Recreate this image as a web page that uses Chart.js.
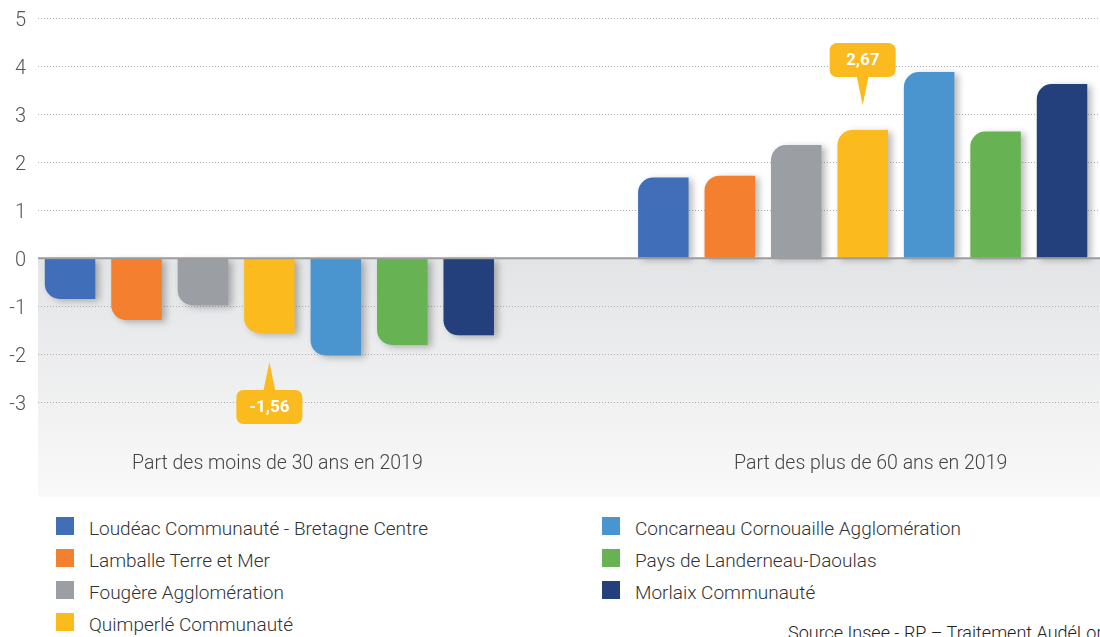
<!DOCTYPE html>
<html lang="fr">
<head>
<meta charset="utf-8">
<title>Part des moins de 30 ans / plus de 60 ans</title>
<script src="https://cdn.jsdelivr.net/npm/chart.js@4.4.1/dist/chart.umd.min.js"></script>
<style>
  html, body { margin: 0; padding: 0; background: #fff; overflow: hidden; }
  body { width: 1100px; height: 637px; position: relative; font-family: Roboto, "Noto Sans", sans-serif; }
  #wrap { position: absolute; left: 0; top: 0; width: 1100px; height: 497px; }
  #legend {
    position: absolute; left: 56px; top: 510px;
    display: grid; grid-template-columns: 546px auto; grid-template-rows: repeat(4, 32px);
    grid-auto-flow: column;
  }
  .item { display: flex; align-items: center; font-size: 19px; font-weight: 300; color: #333; white-space: nowrap; }
  .item span.txt { position: relative; top: 2px; }
  .box { width: 18px; height: 18px; margin-right: 15px; flex: none; }
  #source { position: absolute; left: 788px; top: 624px; font-size: 18px; font-weight: 300; line-height: 1; color: #222; white-space: nowrap; }
</style>
</head>
<body>
<div id="wrap"><canvas id="chart" width="1100" height="497"></canvas></div>
<div id="legend"></div>
<div id="source">Source Insee - RP – Traitement AudéLor</div>
<script>
// categories (x) and territories (series)
const categories = ['Part des moins de 30 ans en 2019', 'Part des plus de 60 ans en 2019'];
const territories = [
    'Loudéac Communauté - Bretagne Centre',
    'Lamballe Terre et Mer',
    'Fougère Agglomération',
    'Quimperlé Communauté',
    'Concarneau Cornouaille Agglomération',
    'Pays de Landerneau-Daoulas',
    'Morlaix Communauté'
];
const colors = ['#416eb8', '#f47f2e', '#9b9ea2', '#fbba1e', '#4a94d0', '#67b353', '#233f7c'];

// values (points of %)
const moins30 = [-0.85, -1.29, -0.98, -1.56, -2.03, -1.81, -1.61];
const plus60 = [1.68, 1.72, 2.36, 2.67, 3.88, 2.64, 3.63];
const yTicks = [-3, -2, -1, 0, 1, 2, 3, 4, 5];
const highlighted = 3; // Quimperlé gets the callouts

const seriesByCategory = [moins30, plus60];

const datasets = territories.map((name, i) => ({
    label: name,
    data: categories.map((c, j) => ({ x: j, y: seriesByCategory[j][i] })),
    backgroundColor: colors[i],
    borderRadius: { topLeft: 15, bottomLeft: 15 },
    borderSkipped: 'start',
    categoryPercentage: 0.784,
    barPercentage: 0.76
}));

// gray gradient below the zero line
const backgroundPlugin = {
    id: 'lowerBackground',
    beforeDraw(chart) {
        const { ctx, chartArea } = chart;
        const y0 = chart.scales.y.getPixelForValue(0);
        const g = ctx.createLinearGradient(0, y0, 0, chart.height);
        g.addColorStop(0, '#e3e4e6');
        g.addColorStop(1, '#f9f9f9');
        ctx.save();
        ctx.fillStyle = g;
        ctx.fillRect(chartArea.left, y0, chart.width - chartArea.left, chart.height - y0);
        ctx.restore();
    }
};

// soft shadow behind the bars
const shadowPlugin = {
    id: 'barShadow',
    beforeDatasetsDraw(chart) {
        const ctx = chart.ctx;
        ctx.save();
        ctx.shadowColor = 'rgba(0, 0, 0, 0.28)';
        ctx.shadowBlur = 7;
        ctx.shadowOffsetX = 4;
        ctx.shadowOffsetY = 2;
    },
    afterDatasetsDraw(chart) {
        chart.ctx.restore();
    }
};

// solid zero line + value callouts for the highlighted territory
const overlayPlugin = {
    id: 'overlay',
    afterDatasetsDraw(chart) {
        const { ctx, chartArea } = chart;
        const y0 = chart.scales.y.getPixelForValue(0);
        ctx.save();
        ctx.strokeStyle = '#9c9c9c';
        ctx.lineWidth = 2;
        ctx.beginPath();
        ctx.moveTo(chartArea.left, y0);
        ctx.lineTo(chart.width, y0);
        ctx.stroke();

        const meta = chart.getDatasetMeta(highlighted);
        const color = colors[highlighted];
        meta.data.forEach((bar, j) => {
            const v = chart.data.datasets[highlighted].data[j].y;
            const text = v.toFixed(2).replace('.', ',');
            const w = 66, h = 34, r = 7, tail = 28, half = 6;
            const cx = bar.x;
            let tip, boxTop, baseY;
            if (v >= 0) {
                tip = bar.y - 25;
                baseY = tip - tail;
                boxTop = baseY - h;
            } else {
                tip = bar.y + 29;
                baseY = tip + tail;
                boxTop = baseY;
            }
            ctx.fillStyle = color;
            ctx.beginPath();
            ctx.roundRect(cx - w / 2, boxTop, w, h, r);
            ctx.fill();
            ctx.beginPath();
            ctx.moveTo(cx - half, baseY + (v >= 0 ? -1 : 1));
            ctx.lineTo(cx + half, baseY + (v >= 0 ? -1 : 1));
            ctx.lineTo(cx, tip);
            ctx.closePath();
            ctx.fill();
            ctx.fillStyle = '#ffffff';
            ctx.font = 'bold 17px Roboto, sans-serif';
            ctx.textAlign = 'center';
            ctx.textBaseline = 'middle';
            ctx.fillText(text, cx, boxTop + h / 2 + 1);
        });
        ctx.restore();
    }
};

const chart = new Chart(document.getElementById('chart').getContext('2d'), {
    type: 'bar',
    data: { datasets: datasets },
    plugins: [backgroundPlugin, shadowPlugin, overlayPlugin],
    options: {
        responsive: false,
        animation: false,
        layout: { padding: { top: 4, left: 0, right: 0, bottom: 0 } },
        plugins: {
            legend: { display: false },
            tooltip: { enabled: false }
        },
        scales: {
            x: {
                type: 'linear',
                min: -0.39,
                max: 1.4,
                offset: false,
                grid: { display: false },
                border: { display: false },
                afterBuildTicks: (s) => { s.ticks = categories.map((c, j) => ({ value: j })); },
                afterFit: (s) => { s.height = 71; s.paddingLeft = 0; s.paddingRight = 0; },
                ticks: {
                    autoSkip: false,
                    maxRotation: 0,
                    padding: 18,
                    labelOffset: 8,
                    color: '#444',
                    font: { family: 'Roboto', size: 19.5, weight: '300' },
                    callback: (v) => categories[v] ?? ''
                }
            },
            y: {
                min: -3.5,
                max: 5.3,
                afterBuildTicks: (s) => { s.ticks = yTicks.map(v => ({ value: v })); },
                afterFit: (s) => { s.width = 38; s.paddingTop = 0; s.paddingBottom = 0; },
                grid: {
                    drawTicks: false,
                    color: (c) => (c.tick && c.tick.value === 0 ? 'rgba(0,0,0,0)' : '#b0b0b0'),
                    lineWidth: 1
                },
                border: { display: false, dash: [1, 2] },
                ticks: {
                    padding: 12,
                    labelOffset: 3,
                    color: '#555',
                    font: { family: 'Roboto', size: 20, weight: '300' }
                }
            }
        }
    }
});

// two-column legend under the chart, built from the datasets
const legendEl = document.getElementById('legend');
chart.data.datasets.forEach((ds) => {
    const item = document.createElement('div');
    item.className = 'item';
    const box = document.createElement('span');
    box.className = 'box';
    box.style.background = ds.backgroundColor;
    const label = document.createElement('span');
    label.className = 'txt';
    label.textContent = ds.label;
    item.appendChild(box);
    item.appendChild(label);
    legendEl.appendChild(item);
});
</script>
</body>
</html>
